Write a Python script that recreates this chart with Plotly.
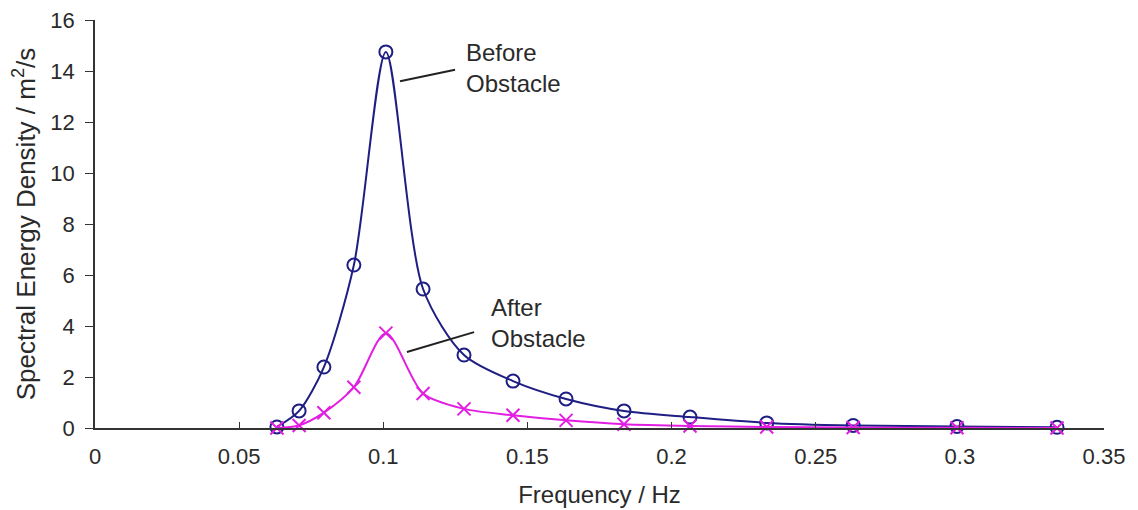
import plotly.graph_objects as go

freq = [0.0631, 0.0708, 0.0794, 0.0898, 0.1009, 0.1138, 0.128, 0.145, 0.1634,
        0.1835, 0.2064, 0.233, 0.263, 0.299, 0.3337]
before = [0.04, 0.67, 2.39, 6.39, 14.75, 5.45, 2.86, 1.84, 1.14,
          0.67, 0.43, 0.2, 0.1, 0.06, 0.03]
after = [0.0, 0.1, 0.6, 1.6, 3.72, 1.35, 0.75, 0.5, 0.3,
         0.15, 0.08, 0.04, 0.02, 0.01, 0.0]

x_ticks = [0, 0.05, 0.1, 0.15, 0.2, 0.25, 0.3, 0.35]
x_tick_text = ["0", "0.05", "0.1", "0.15", "0.2", "0.25", "0.3", "0.35"]
y_ticks = [0, 2, 4, 6, 8, 10, 12, 14, 16]

navy = "#1e1e84"
magenta = "#e21ee2"
font = "Liberation Sans, Arial, sans-serif"
txt = "#2a2a2a"

fig = go.Figure()
fig.add_trace(go.Scatter(
    x=freq, y=before, mode="lines+markers", line=dict(color=navy, width=2, shape="spline", smoothing=0.8),
    marker=dict(symbol="circle-open", size=13, color=navy, line=dict(width=2)),
    name="Before Obstacle", cliponaxis=False))
fig.add_trace(go.Scatter(
    x=freq, y=after, mode="lines+markers", line=dict(color=magenta, width=2, shape="spline", smoothing=0.8),
    marker=dict(symbol="x-thin-open", size=13, color=magenta, line=dict(width=2, color=magenta)),
    name="After Obstacle", cliponaxis=False))

# leader lines and labels
fig.add_shape(type="line", xref="x", yref="y", x0=0.1058, y0=13.6, x1=0.1249, y1=14.05,
              line=dict(color="#222222", width=2))
fig.add_shape(type="line", xref="x", yref="y", x0=0.1082, y0=2.98, x1=0.1315, y1=3.76,
              line=dict(color="#222222", width=2))
fig.add_annotation(x=0.128, y=14.1, xref="x", yref="y", text="Before<br>Obstacle",
                   showarrow=False, xanchor="left", yanchor="middle", align="left",
                   font=dict(family=font, size=24, color=txt))
fig.add_annotation(x=0.1367, y=4.12, xref="x", yref="y", text="After<br>Obstacle",
                   showarrow=False, xanchor="left", yanchor="middle", align="left",
                   font=dict(family=font, size=24, color=txt))

fig.update_layout(
    width=1138, height=510,
    margin=dict(l=87, r=42, t=12, b=90),
    paper_bgcolor="white", plot_bgcolor="white",
    showlegend=False,
    font=dict(family=font, size=22, color=txt),
)
fig.update_xaxes(
    range=[0, 0.35], tickvals=x_ticks, ticktext=x_tick_text,
    showgrid=False, zeroline=False, showline=True, linecolor="#333333", linewidth=1.5,
    ticks="inside", ticklen=6, tickcolor="#333333", ticklabelstandoff=8,
    ticklabeloverflow="allow", automargin=False,
    title=dict(text="Frequency / Hz", font=dict(family=font, size=24), standoff=18),
)
fig.update_yaxes(
    range=[0, 16], tickvals=y_ticks,
    showgrid=False, zeroline=False, showline=True, linecolor="#333333", linewidth=1.5,
    ticks="outside", ticklen=8, tickcolor="#333333", ticklabelstandoff=6,
    ticklabeloverflow="allow", automargin=False,
    title=dict(text="Spectral Energy Density / m<sup>2</sup>/s", font=dict(family=font, size=26), standoff=10),
)

fig.write_html("out.html")
